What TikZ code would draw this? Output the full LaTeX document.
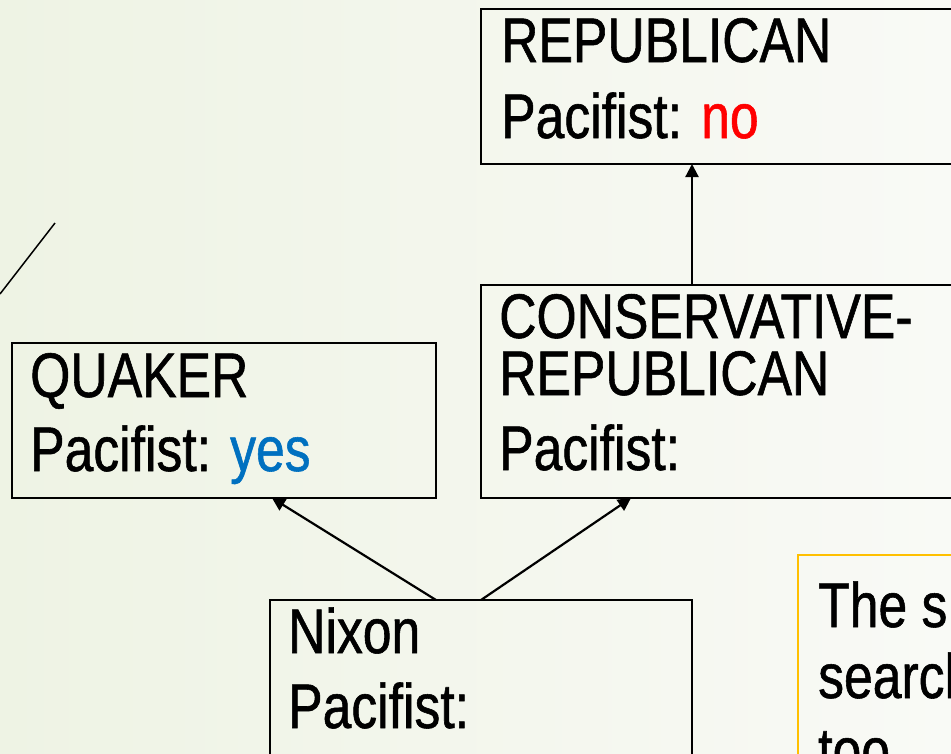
\documentclass[tikz,border=0pt]{standalone}
\usepackage{fontspec}
\setmainfont[FakeStretch=0.82,FakeBold=0.9]{Liberation Sans}
\usetikzlibrary{arrows.meta}
\definecolor{bgleft}{RGB}{238,243,228}
\definecolor{bgright}{RGB}{249,250,246}
\definecolor{nored}{RGB}{255,0,0}
\definecolor{yesblue}{RGB}{0,112,192}
\definecolor{noteframe}{RGB}{255,192,0}
\definecolor{stroke}{RGB}{110,100,80}
\begin{document}
\begin{tikzpicture}[x=1pt,y=-1pt,
  frame/.style={draw=black,line width=2pt,inner sep=0pt,outer sep=0pt,anchor=north west},
  notebox/.style={draw=noteframe,line width=2pt,inner sep=0pt,outer sep=0pt,anchor=north west},
  txt/.style={anchor=base west,inner sep=0pt,font=\fontsize{63}{76}\selectfont},
  arr/.style={line width=2.2pt,-{Triangle[length=13pt,width=13pt]}}]
\useasboundingbox (0,0) rectangle (951,753);
\clip (0,0) rectangle (951,753);
\shade[left color=bgleft,right color=bgright] (0,0) rectangle (951,753);

% thin decorative stroke on the left edge
\draw[stroke,line width=1.5pt] (0,294) -- (55,223);

% frames
\node[frame,minimum width=600pt,minimum height=155pt] (rep) at (481,9) {};
\node[frame,minimum width=600pt,minimum height=213pt] (cons) at (481,285) {};
\node[frame,minimum width=424pt,minimum height=155pt] (quak) at (12,343) {};
\node[frame,minimum width=422pt,minimum height=300pt] (nixon) at (270,600) {};
\node[notebox,minimum width=300pt,minimum height=300pt] (note) at (798,555) {};

% frame texts
\node[txt] (rep1) at (501,62) {REPUBLICAN};
\node[txt] (rep2) at (501,138) {Pacifist: \textcolor{nored}{no}};
\node[txt] (cons1) at (499,338) {CONSERVATIVE-};
\node[txt] (cons2) at (499,395) {REPUBLICAN};
\node[txt] (cons3) at (499,470) {Pacifist:};
\node[txt] (quak1) at (30,397) {QUAKER};
\node[txt] (quak2) at (30,471) {Pacifist: \textcolor{yesblue}{yes}};
\node[txt] (nix1) at (288,653) {Nixon};
\node[txt] (nix2) at (288,728) {Pacifist:};
\node[txt] (note1) at (818,627) {The s};
\node[txt] (note2) at (818,698) {search};
\node[txt] (note3) at (818,772) {too};

% inheritance links
\draw[arr] ([xshift=166pt]nixon.north west) -- ([xshift=260pt]quak.south west);
\draw[arr] ([xshift=211pt]nixon.north west) -- ([xshift=150pt]cons.south west);
\draw[arr] ([xshift=211pt]cons.north west) -- ([xshift=211pt]rep.south west);
\end{tikzpicture}
\end{document}
